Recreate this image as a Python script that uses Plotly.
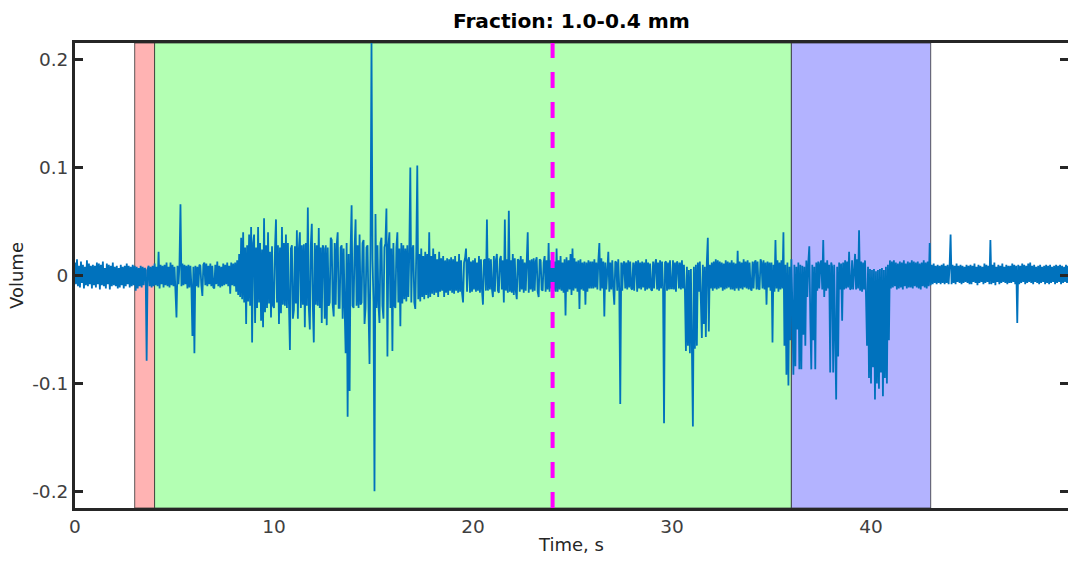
import numpy as np
import plotly.graph_objects as go

# Recorded volume signal, sampled at 20 Hz, in thousandths (x 0.001).
# One row per second.
SAMPLE_RATE = 20.0
vol_00_05 = [
    12, -8, 15, -10, 9, -11, 13, -7, 10, -12, 8, -9, 14, -10, 11, -8, 9, -12, 10, -9,
    9, -11, 12, -8, 11, -13, 10, -9, 13, -10, 7, -12, 11, -8, 10, -13, 9, -10, 12, -9,
    8, -10, 9, -12, 7, -11, 10, -9, 8, -12, 9, -10, 11, -8, 9, -11, 8, -10, 10, -9,
    9, -14, 8, -12, 7, -10, 9, -11, 8, -9, 7, 5, -79, 6, 9, -10, 8, -11, 9, -10,
    11, -9, 8, -10, 22, -12, 10, -8, 9, -11, 10, -9, 12, -10, 8, -11, 12, -9, 10, -10,
]
vol_05_10 = [
    8, -10, -39, 9, -8, 10, 66, -10, 11, -9, 10, -8, 9, -12, 10, -11, 9, -10, -56, 8,
    -72, 9, -10, 8, -11, 10, 9, -9, -19, 10, 12, -9, 11, -10, 9, -8, 11, -10, 9, -11,
    -12, 10, -8, 13, -10, 9, -11, 8, -10, 11, -9, 10, -8, 12, -10, 9, -17, 12, -9, 11,
    -10, 12, -15, 14, -18, 20, -20, 35, -22, 40, -25, 26, -45, 28, -24, 38, -28, 45, -62, 30,
    38, -44, 26, -30, 45, -25, 30, -42, 24, -48, 53, -34, 28, -30, 40, -26, 22, -39, 27, -28,
]
vol_10_15 = [
    -30, 25, 52, -25, 28, -45, 26, -35, 45, -27, 30, -28, 38, -30, 30, -26, -69, 25, 28, -40,
    -32, 27, -26, 42, -40, 25, 40, -30, 28, -27, 29, -48, 30, -28, 63, -30, -50, 28, 48, -27,
    -62, 30, -27, 28, -28, 44, -30, 26, -44, 28, 25, -40, 28, -46, 26, -28, -25, 35, 33, -27,
    -38, 30, -27, 28, 40, -30, -30, 26, 28, -40, 25, -30, -72, 30, -131, 20, -107, 25, 65, -28,
    -30, 25, 52, -28, 28, -30, 38, -27, -25, 30, 33, -45, -30, 26, 28, -30, -82, 25, 216, 15,
]
vol_15_20 = [
    -25, -200, 57, -30, 28, -27, -44, 30, 35, -28, -40, 26, 30, 62, -75, 28, 40, -30, 25, -70,
    30, -28, -30, 26, 40, -25, 25, -47, 30, -26, 28, -22, 25, -24, 28, -20, 22, 100, -25, 24,
    28, -25, -31, 22, 102, -22, 20, -24, 25, -20, 18, -22, 22, -18, 20, -21, 40, -20, 18, -17,
    25, -18, 20, -16, 15, -20, 22, -15, 16, -14, 18, -20, 14, -16, 16, -18, 15, -14, 17, -16,
    15, -17, 18, -14, 13, -16, 20, -15, 14, -16, -25, 12, 16, 25, -15, 14, 17, -16, 13, -15,
]
vol_20_25 = [
    14, -13, 16, -15, 12, -14, 18, -16, 15, -13, -27, 14, 15, -14, 52, -14, 16, -13, 15, -12,
    -20, 18, -15, 14, 20, -14, -16, 15, 18, -13, 14, -25, 52, -14, 15, -16, 60, -15, 14, -16,
    20, -18, 16, -14, -22, 15, 14, -15, 18, -13, 15, -16, 12, -14, 16, 40, -16, 14, -13, 15,
    -15, 16, -14, 13, 17, -15, -20, 15, 14, -13, -14, 12, 18, -15, 14, -13, 30, -15, 14, -12,
    16, -14, 13, -15, 25, -15, 14, -13, 18, -14, 12, -16, 15, -37, 17, -15, 14, -13, 20, -18,
]
vol_25_30 = [
    25, -14, 16, -12, 13, -15, 14, -31, 15, -13, 12, -14, 13, -27, 12, -15, 14, -12, 13, -12,
    13, -12, 15, -11, 12, -13, 14, 30, -14, 16, -12, 13, -38, 12, -13, 14, 22, -15, 12, -13,
    14, -12, -27, 13, 12, -14, 15, -12, -119, 12, -14, 11, 13, -12, 12, -13, 14, -11, 13, -12,
    -13, 12, -14, 11, 13, -15, 14, -12, 12, -13, 13, -11, 12, -14, 15, -13, 12, -12, 11, -13,
    -14, 13, -12, 11, 15, -13, 12, -14, 14, -12, 13, -11, -137, 12, 13, -14, 12, -13, 14, -12,
]
vol_30_35 = [
    -12, 14, -13, 12, -15, 13, 11, -12, 12, -13, 14, -12, 10, -15, -70, 8, -65, 5, -72, 6,
    -60, -140, 8, -68, 10, -65, 12, -15, 13, -14, -58, 10, -45, 8, -57, 12, 35, -52, 10, -12,
    12, -14, 13, -12, 15, -13, 14, -12, 13, -11, 12, -14, 11, -13, 14, -12, 13, -11, 12, -13,
    14, -13, 12, -14, 11, -12, 23, -14, 13, -12, 12, -13, 15, -11, 13, -12, 14, -13, 12, -12,
    -14, 13, -12, 12, 14, -13, 13, -12, -13, 15, 12, -12, 14, -13, 12, -27, 13, -11, 12, -14,
]
vol_35_40 = [
    12, -62, 10, -15, 33, -12, 14, -15, 12, -13, 14, -12, 40, -65, 10, -92, 12, -102, 8, -60,
    15, -30, -92, 10, -84, 8, -50, 12, -87, 10, -87, 9, -55, 8, -65, 14, -20, 12, 27, -40,
    -87, 10, -60, 8, -87, 12, -14, 13, -12, 11, 14, -13, 33, -20, 12, -14, 14, -12, 10, -90,
    12, 8, -90, 10, -70, -115, 8, -75, 12, -13, 11, -42, 12, -13, 14, -12, 13, -11, 22, -13,
    -12, 14, -13, 12, 20, -13, 15, -12, 42, -14, 13, -15, 12, -13, 14, -20, -65, 8, -95, 6,
]
vol_40_45 = [
    -100, 5, -85, 6, -115, 4, -100, 5, -105, 6, -90, 7, -112, 5, -95, 8, -100, 10, -60, 14,
    -12, 13, -11, 14, -10, 12, -13, 11, -12, 13, -11, 12, -13, 14, -10, 11, -12, 13, -11, 12,
    -11, 14, -12, 13, -10, 12, -11, 13, -12, 11, -13, 12, -10, 14, -11, 12, -12, 13, -10, 30,
    -9, 10, -8, 11, -7, 9, -8, 10, -7, 9, -8, 10, -7, 11, -8, 9, -7, 10, -8, 9,
    38, -8, 10, -7, 9, -8, 11, -6, 9, -7, 10, -8, 9, -7, 8, -6, 10, -7, 9, -8,
]
vol_45_50 = [
    10, -8, 9, -6, 11, -7, 8, -9, 10, -7, 9, -6, 8, -8, 11, -7, 10, -6, 9, -8,
    33, -8, 10, -7, 12, -9, 8, -6, 10, -8, 9, -7, 11, -6, 8, -7, 10, -8, 9, -7,
    9, -7, 11, -6, 10, -8, 9, -44, 10, -8, 9, -7, 11, -6, 10, -8, 9, -7, 11, -6,
    12, -7, 9, -8, 10, -6, 8, -7, 9, -8, 10, -7, 8, -6, 9, -8, 10, -7, 9, -8,
    10, -7, 8, -6, 9, -8, 10, -7, 9, -6, 10, -8, 9, -7, 8, -6, 10, -7, 9, -6,
]

# Marked phases (start, end, colour) and the event marker time, in seconds
phase_start = [3.0, 4.0, 36.0]
phase_end = [4.0, 36.0, 43.0]
phase_color = ["#FFB3B3", "#B3FFB3", "#B3B3FF"]
event_time = 24.0

volume = np.array(vol_00_05 + vol_05_10 + vol_10_15 + vol_15_20 + vol_20_25
                  + vol_25_30 + vol_30_35 + vol_35_40 + vol_40_45 + vol_45_50) * 1e-3
time_s = np.arange(volume.size) / SAMPLE_RATE

AX = "#262626"
FONT = "DejaVu Sans"

fig = go.Figure()
fig.add_trace(go.Scatter(
    x=time_s, y=volume, mode="lines",
    line=dict(color="#0072BD", width=1.8),
    hoverinfo="skip", showlegend=False,
))
# invisible companion trace so the right-hand y axis gets drawn
fig.add_trace(go.Scatter(x=[None], y=[None], yaxis="y2", showlegend=False, hoverinfo="skip"))

for x0, x1, c in zip(phase_start, phase_end, phase_color):
    fig.add_shape(type="rect", xref="x", yref="paper", x0=x0, x1=x1, y0=0, y1=1,
                  fillcolor=c, line=dict(color="rgba(40,40,40,0.75)", width=1), layer="below")

fig.add_shape(type="line", xref="x", yref="paper", x0=event_time, x1=event_time, y0=0, y1=1,
              line=dict(color="#FF00FF", width=4, dash="16px,14px"), layer="above")

yr = [-0.2155, 0.2155]
yticks = [-0.2, -0.1, 0, 0.1, 0.2]
ylabels = ["-0.2", "-0.1", "0", "0.1", "0.2"]

fig.update_layout(
    width=1068, height=561,
    margin=dict(l=75, r=0, t=43, b=53),
    paper_bgcolor="white", plot_bgcolor="white",
    font=dict(family=FONT, size=18, color=AX),
    title=dict(text="<b>Fraction: 1.0-0.4 mm</b>", x=0.535, xanchor="center",
               y=0.962, yanchor="middle", font=dict(family=FONT, size=20.2, color="black")),
    xaxis=dict(range=[0, 49.9], tickvals=[0, 10, 20, 30, 40], ticks="",
               showgrid=False, zeroline=False, showline=True, mirror=True,
               linecolor=AX, linewidth=3,
               title=dict(text="Time, s", standoff=3, font=dict(size=18)),
               tickfont=dict(size=18.5, color="#404040")),
    yaxis=dict(range=yr, tickvals=yticks, ticktext=ylabels, ticks="inside",
               ticklen=8, tickwidth=3, tickcolor=AX,
               showgrid=False, zeroline=False, showline=True, mirror=False,
               linecolor=AX, linewidth=3,
               title=dict(text="Volume", standoff=4, font=dict(size=18)),
               tickfont=dict(size=18.5, color="#404040")),
    yaxis2=dict(range=yr, overlaying="y", side="right", tickvals=yticks,
                ticks="inside", ticklen=8, tickwidth=3, tickcolor=AX,
                showticklabels=False, showgrid=False, zeroline=False, showline=False),
)

fig.write_html("out.html", config={"displayModeBar": False})
